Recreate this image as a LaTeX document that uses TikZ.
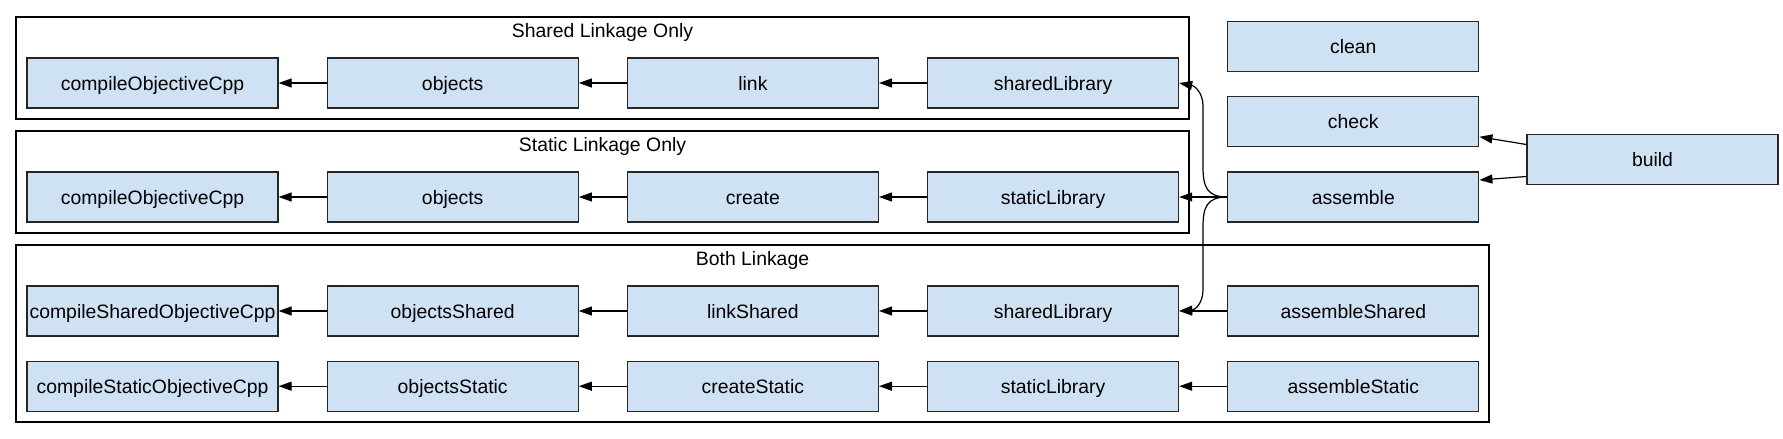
\documentclass[tikz,border=0pt]{standalone}
\usepackage{fontspec}
\setmainfont{Liberation Sans}
\usetikzlibrary{positioning}
\usetikzlibrary{fit}
\usetikzlibrary{arrows.meta}
\definecolor{taskfill}{RGB}{207,226,243}
\tikzset{task/.style={draw=black!85,fill=taskfill,line width=1.2pt,minimum width=251pt,minimum height=50pt,inner sep=2pt,text height=14pt,text depth=0pt,font=\fontsize{19.4}{23}\selectfont},
         cluster/.style={draw,line width=1.2pt,inner sep=0pt},
         title/.style={anchor=base,font=\fontsize{19.4}{23}\selectfont},
         dep/.style={line width=1.2pt,-{Triangle[length=13pt,width=9pt]}},
         node distance=48pt,
         }

\begin{document}
\begin{tikzpicture}[x=1pt,y=-1pt]
\useasboundingbox (0,0) rectangle (1783,439);
% clusters
\node[cluster,fit={(16,17) (1189,119)}] (sharedonly) {};
\node[cluster,fit={(16,131) (1189,233)}] (staticonly) {};
\node[cluster,fit={(16,245) (1489,422)}] (both) {};
\node[title] at ([yshift=-21pt]sharedonly.north) {Shared Linkage Only};
\node[title] at ([yshift=-21pt]staticonly.north) {Static Linkage Only};
\node[title] at ([yshift=-21pt]both.north) {Both Linkage};
% Shared Linkage Only
\node[task] (compA) at (152.5,83) {compileObjectiveCpp};
\node[task,right=of compA] (objA) {objects};
\node[task,right=of objA] (link) {link};
\node[task,right=of link] (sharedA) {sharedLibrary};
% Static Linkage Only
\node[task] (compB) at (152.5,197) {compileObjectiveCpp};
\node[task,right=of compB] (objB) {objects};
\node[task,right=of objB] (create) {create};
\node[task,right=of create] (staticB) {staticLibrary};
% Both Linkage
\node[task] (compShared) at (152.5,311) {compileSharedObjectiveCpp};
\node[task,right=of compShared] (objShared) {objectsShared};
\node[task,right=of objShared] (linkShared) {linkShared};
\node[task,right=of linkShared] (sharedC) {sharedLibrary};
\node[task,right=of sharedC] (assembleShared) {assembleShared};
\node[task,below=24pt of compShared] (compStatic) {compileStaticObjectiveCpp};
\node[task,right=of compStatic] (objStatic) {objectsStatic};
\node[task,right=of objStatic] (createStatic) {createStatic};
\node[task,right=of createStatic] (staticC) {staticLibrary};
\node[task,right=of staticC] (assembleStatic) {assembleStatic};
% lifecycle
\node[task,right=of staticB] (assemble) {assemble};
\node[task,above=24pt of assemble] (check) {check};
\node[task,above=24pt of check] (clean) {clean};
\node[task] (build) at (1652.5,159.5) {build};

\foreach \from/\to in {objA/compA,link/objA,sharedA/link,
                       objB/compB,create/objB,staticB/create,
                       objShared/compShared,linkShared/objShared,sharedC/linkShared,assembleShared/sharedC,
                       objStatic/compStatic,createStatic/objStatic,staticC/createStatic,assembleStatic/staticC,
                       assemble/staticB}
  \draw[dep] (\from) -- (\to);
\draw[dep] (assemble.west) .. controls (1207,197) and (1203,187) .. (1203,167) -- (1203,106)
  .. controls (1203,93) and (1195,86) .. (sharedA.east);
\draw[dep] (assemble.west) .. controls (1207,197) and (1203,207) .. (1203,227) -- (1203,290)
  .. controls (1203,303) and (1195,310) .. (sharedC.east);
\draw[dep] ([yshift=15pt]build.west) -- ([yshift=-15pt]check.east);
\draw[dep] ([yshift=-17pt]build.west) -- ([yshift=17pt]assemble.east);
\end{tikzpicture}
\end{document}
